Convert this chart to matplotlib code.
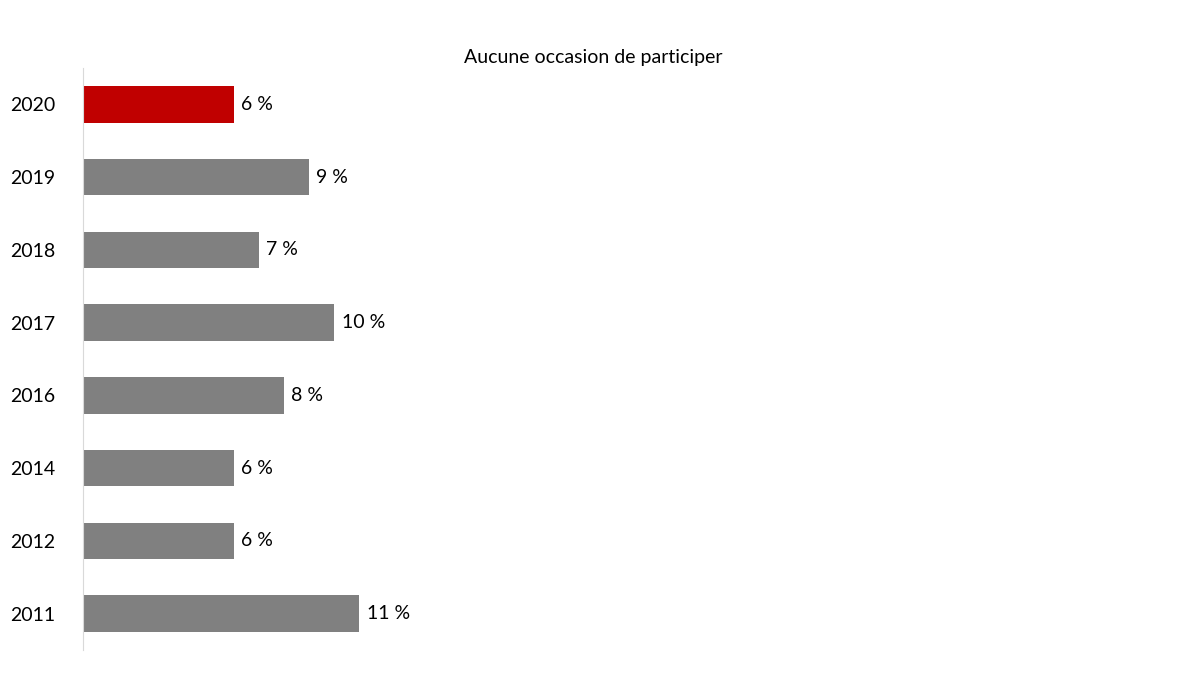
import matplotlib
matplotlib.use("Agg")
import matplotlib.pyplot as plt

years = ["2020", "2019", "2018", "2017", "2016", "2014", "2012", "2011"]
values = [6, 9, 7, 10, 8, 6, 6, 11]
colors = ["#C00000"] + ["#808080"] * 7
labels = [f"{v} %" for v in values]

plt.rcParams['font.family'] = ['Lato', 'DejaVu Sans']
fig = plt.figure(figsize=(12, 6.75), dpi=100)
ax = fig.add_axes([83/1200, 1-650/675, (1180-83)/1200, (650-68)/675])
ypos = list(range(len(years)))
ax.barh(ypos, values, height=0.5, color=colors)
ax.set_ylim(len(years) - 0.5, -0.5)
ax.set_xlim(0, (1180-83)/25.1)
ax.set_yticks(ypos)
ax.set_yticklabels(years, fontsize=14)
ax.tick_params(axis='y', length=0, pad=20)
ax.set_xticks([])
for s in ["top", "right", "bottom"]:
    ax.spines[s].set_visible(False)
ax.spines["left"].set_color("#D9D9D9")
for y, v, t in zip(ypos, values, labels):
    ax.text(v + 0.3, y, t, va="center", ha="left", fontsize=14)
fig.text(593/1200, 1-57/675, "Aucune occasion de participer", ha="center", va="center", fontsize=14)
fig.savefig("out.png", dpi=100)
